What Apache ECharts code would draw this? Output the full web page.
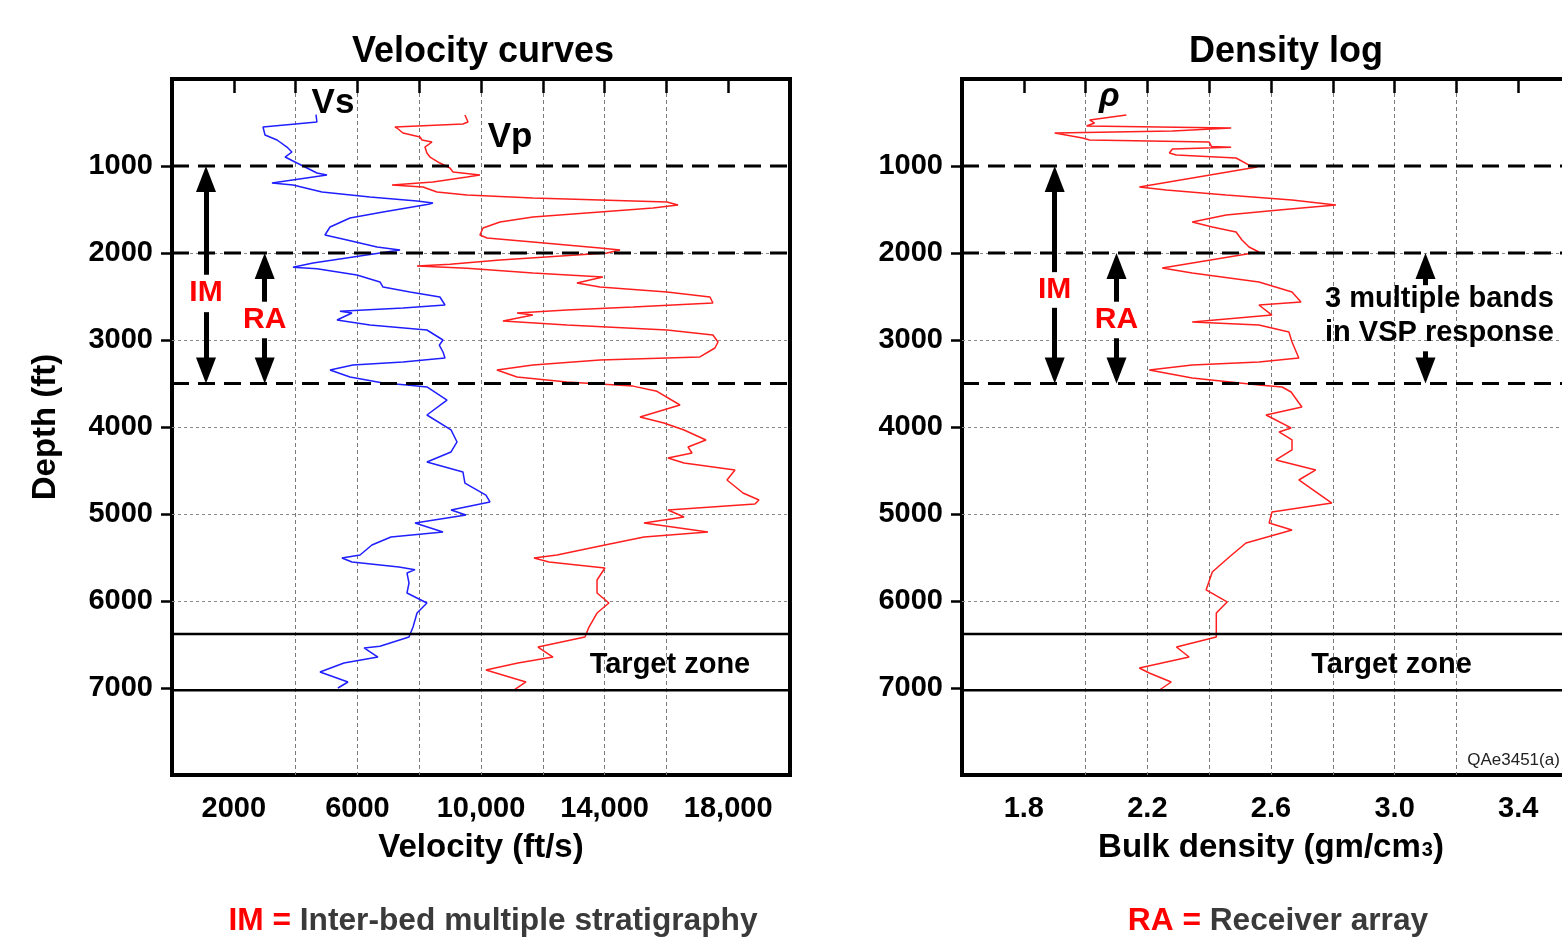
<!DOCTYPE html>
<html><head><meta charset="utf-8">
<script src="https://cdn.jsdelivr.net/npm/echarts@6/dist/echarts.min.js"></script>
<style>html,body{margin:0;padding:0;background:#fff;overflow:hidden}#c{width:1562px;height:939px}</style>
</head><body><div id="c"></div>
<script>
// ---------- data ----------
const depthTickValues = [1000,2000,3000,4000,5000,6000,7000];
const depthTickLabels = ['1000','2000','3000','4000','5000','6000','7000'];
const velTickMarks = [2000,4000,6000,8000,10000,12000,14000,16000,18000];
const velTickValues = [2000,6000,10000,14000,18000];
const velTickLabels = ['2000','6000','10,000','14,000','18,000'];
const rhoTickMarks = [1.8,2.0,2.2,2.4,2.6,2.8,3.0,3.2,3.4];
const rhoTickValues = [1.8,2.2,2.6,3.0,3.4];
const rhoTickLabels = ['1.8','2.2','2.6','3.0','3.4'];
const multipleBoundaries = [1000,2000,3500];   // ft, dashed
const targetZone = [6380,7025];                // ft, solid

// [depth ft, Vs ft/s]
const vsLog = [[410,4660],[494,4690],[552,2945],[644,3010],[701,3400],[782,3720],[839,3880],[897,3660],[966,4045],[1080,4690],[1103,5015],[1195,3235],[1218,3915],[1299,4855],[1356,6405],[1402,7930],[1425,8445],[1440,8300],[1529,6830],[1598,5760],[1701,5115],[1793,4950],[1851,5665],[1931,6635],[1966,7380],[2115,4565],[2165,3915],[2180,4690],[2253,5985],[2333,6730],[2391,6830],[2448,7700],[2506,8670],[2598,8835],[2632,7475],[2670,5435],[2690,5825],[2770,5340],[2828,6405],[2885,8250],[3000,8770],[3060,8650],[3138,8770],[3207,8835],[3253,7475],[3287,5855],[3345,5115],[3425,5760],[3494,6830],[3517,7605],[3540,8250],[3690,8900],[3862,8250],[4034,9030],[4172,9225],[4287,9030],[4402,8250],[4517,9415],[4644,9480],[4782,10160],[4862,10290],[4954,9030],[5011,9515],[5103,7865],[5207,8770],[5264,7085],[5356,6470],[5471,6085],[5506,5500],[5552,5825],[5609,7345],[5640,7865],[5678,7605],[5793,7670],[5908,7605],[6023,8250],[6138,7930],[6299,7800],[6414,7670],[6520,6730],[6540,6215],[6644,6665],[6713,5565],[6816,4790],[6931,5695],[7000,5370]];

// [depth ft, Vp ft/s]
const vpLog = [[414,9480],[494,9580],[517,9415],[552,7215],[563,7280],[621,7475],[667,8025],[701,8090],[724,8415],[782,8185],[851,8250],[897,8350],[966,8670],[1023,8995],[1069,9095],[1103,9965],[1126,9545],[1184,8445],[1218,7120],[1241,8120],[1299,8575],[1333,9545],[1368,11680],[1391,13850],[1414,16020],[1448,16375],[1483,15565],[1529,13850],[1586,11680],[1644,10615],[1713,10065],[1793,9965],[1828,10195],[1874,11680],[1943,13850],[1966,14500],[2000,14075],[2080,10615],[2130,9000],[2150,7930],[2175,9545],[2230,11680],[2276,13945],[2345,13105],[2391,13850],[2448,16020],[2506,17410],[2575,17505],[2621,14920],[2655,12780],[2690,11165],[2713,11680],[2782,10710],[2828,12780],[2885,16020],[2943,17505],[3023,17670],[3092,17570],[3195,17085],[3230,13850],[3287,11680],[3345,10515],[3425,11165],[3483,12780],[3530,14920],[3590,15695],[3747,16440],[3885,15145],[3954,15920],[4034,16570],[4149,17280],[4230,16700],[4299,16830],[4356,16050],[4414,16570],[4494,18220],[4609,17960],[4759,18480],[4839,18995],[4885,18865],[4954,16050],[5034,16570],[5103,15275],[5207,17345],[5264,15275],[5356,14010],[5471,12460],[5506,11715],[5552,12200],[5621,14010],[5759,13755],[5908,13755],[6023,14140],[6138,13755],[6299,13495],[6414,13365],[6529,11845],[6644,12330],[6713,11195],[6793,10160],[6931,11455],[7023,11065]];

// [depth ft, bulk density g/cm3]
const rhoLog = [[414,2.132],[471,2.013],[506,2.029],[540,2.003],[563,2.471],[598,2.281],[621,1.900],[678,1.990],[701,2.013],[724,2.400],[775,2.407],[785,2.471],[805,2.281],[851,2.271],[874,2.294],[908,2.487],[989,2.529],[1011,2.555],[1241,2.174],[1276,2.261],[1333,2.455],[1391,2.668],[1448,2.810],[1506,2.626],[1563,2.455],[1644,2.345],[1701,2.410],[1759,2.487],[1851,2.506],[1931,2.529],[1989,2.561],[2172,2.248],[2230,2.345],[2333,2.561],[2448,2.668],[2563,2.697],[2598,2.561],[2713,2.603],[2793,2.345],[2828,2.561],[2908,2.658],[3023,2.668],[3207,2.690],[3253,2.561],[3287,2.345],[3345,2.206],[3437,2.345],[3517,2.561],[3540,2.636],[3598,2.665],[3770,2.700],[3862,2.584],[4011,2.665],[4057,2.626],[4149,2.668],[4264,2.668],[4379,2.616],[4494,2.745],[4609,2.690],[4874,2.797],[4977,2.603],[5103,2.594],[5184,2.668],[5333,2.519],[5494,2.465],[5667,2.410],[5873,2.390],[6011,2.458],[6138,2.423],[6414,2.423],[6529,2.294],[6644,2.335],[6770,2.174],[6828,2.206],[6931,2.277],[7023,2.239]];

// ---------- chart ----------
const FF = '"Liberation Sans", Arial, sans-serif';
const chart = echarts.init(document.getElementById('c'), null, {renderer:'canvas'});

function lookup(vals, labels){
  return v => { for (let i=0;i<vals.length;i++){ if (Math.abs(vals[i]-v) < 1e-6) return labels[i]; } return ''; };
}
function xAx(grid, min, max, interval, marks, vals, labels, name){
  return {
    gridIndex: grid, type:'value', min, max, interval,
    axisLine:{show:false},
    axisTick:{show:true, length:14, customValues:marks, lineStyle:{color:'#000', width:2.5}},
    axisLabel:{customValues:vals, formatter:lookup(vals, labels), fontSize:29, fontWeight:'bold', color:'#000', margin:19, fontFamily:FF},
    splitLine:{show:true, showMinLine:false, showMaxLine:false, lineStyle:{color:'#7a7a7a', type:[4,3], width:1}},
    name, nameLocation:'middle', nameGap:56,
    nameTextStyle:{fontSize:33, fontWeight:'bold', color:'#000', fontFamily:FF, rich:{s:{fontSize:20, fontWeight:'bold', color:'#000', fontFamily:FF, padding:[6,0,0,1]}}}
  };
}
function yAx(grid, withName){
  return {
    gridIndex: grid, type:'value', min:0, max:8000, interval:1000, inverse:true,
    axisLine:{show:false},
    axisTick:{show:true, length:11, customValues:depthTickValues, lineStyle:{color:'#000', width:2.5}},
    axisLabel:{customValues:depthTickValues, formatter:lookup(depthTickValues, depthTickLabels), fontSize:29, fontWeight:'bold', color:'#000', margin:19, fontFamily:FF},
    splitLine:{show:true, showMinLine:false, showMaxLine:false, lineStyle:{color:'#8a8a8a', type:[3,3], width:1}},
    name: withName ? 'Depth (ft)' : '', nameLocation:'middle', nameGap:110, nameRotate:90,
    nameTextStyle:{fontSize:33, fontWeight:'bold', color:'#000', fontFamily:FF}
  };
}
function note(coord, text, style){
  return {coord, symbolSize:0, label:Object.assign({show:true, position:'inside', formatter:text, fontFamily:FF, fontWeight:'bold', color:'#000', fontSize:29}, style||{})};
}
function arrow(x, from, to){ return [{coord:[x, from]}, {coord:[x, to]}]; }

function hLines(xi, xmin, xmax, depths, style, extra){
  return depths.map((d, i) => Object.assign({
    type:'line', xAxisIndex:xi, yAxisIndex:xi, data:[[xmin, d],[xmax, d]],
    symbol:'none', silent:true, animation:false, z:5,
    lineStyle:style
  }, i === 0 ? (extra || {}) : {}));
}
const dashStyle = {color:'#000', width:3, type:[17,9]};
const solidStyle = {color:'#000', width:2.5, type:'solid'};
const arrowLine = {symbol:['none','triangle'], symbolSize:[20,26], silent:true, animation:false,
  label:{show:false}, lineStyle:{color:'#000', width:5, type:'solid'}, emphasis:{disabled:true}};
const red = {color:'#ff0000', fontSize:30};

const leftExtra = {
  markLine: Object.assign({}, arrowLine, {data:[
    arrow(1100, 2250, 1150), arrow(1100, 2680, 3350),
    arrow(3000, 2560, 2150), arrow(3000, 2980, 3350)
  ]}),
  markPoint: {symbol:'circle', silent:true, animation:false, data:[
    note([1100, 2460], 'IM', red),
    note([3000, 2770], 'RA', red),
    note([5210, 276], 'Vs', {fontSize:35}),
    note([10940, 667], 'Vp', {fontSize:35}),
    note([16115, 6735], 'Target zone', {fontSize:29})
  ]}
};
const rightExtra = {
  markLine: Object.assign({}, arrowLine, {data:[
    arrow(1.9, 2220, 1150), arrow(1.9, 2630, 3350),
    arrow(2.1, 2560, 2150), arrow(2.1, 2980, 3350),
    arrow(3.1, 2370, 2150), arrow(3.1, 3130, 3350)
  ]}),
  markPoint: {symbol:'circle', silent:true, animation:false, data:[
    note([1.9, 2425], 'IM', red),
    note([2.1, 2770], 'RA', red),
    note([2.077, 207], 'ρ', {fontSize:34, fontStyle:'italic'}),
    note([3.145, 2724], '3 multiple bands\nin VSP response', {fontSize:29, lineHeight:34, align:'center'}),
    note([2.99, 6735], 'Target zone', {fontSize:29}),
    {coord:[3.235, 7827], symbolSize:0, label:{show:true, position:'right', distance:0, formatter:'QAe3451(a)', fontFamily:FF, fontSize:17, color:'#222'}}
  ]}
};

const footRich = {r:{color:'#ff0000', fontSize:31.7, fontWeight:'bold', fontFamily:FF}, g:{color:'#3a3a3a', fontSize:31.7, fontWeight:'bold', fontFamily:FF}};
const option = {
  backgroundColor:'#ffffff',
  animation:false,
  title:[
    {text:'Velocity curves', left:478, top:29, textAlign:'center', textStyle:{fontSize:36, fontWeight:'bold', color:'#000', fontFamily:FF}},
    {text:'Density log', left:1281, top:29, textAlign:'center', textStyle:{fontSize:36, fontWeight:'bold', color:'#000', fontFamily:FF}},
    {text:'{r|IM =} {g|Inter-bed multiple stratigraphy}', left:488, top:900, textAlign:'center',
      textStyle:{fontSize:31.7, fontWeight:'bold', fontFamily:FF, color:'#3a3a3a', rich:footRich}},
    {text:'{r|RA =} {g|Receiver array}', left:1273, top:900, textAlign:'center',
      textStyle:{fontSize:31.7, fontWeight:'bold', fontFamily:FF, color:'#3a3a3a', rich:footRich}}
  ],
  grid:[
    {left:172, top:79, width:618, height:696, show:true, borderColor:'#000', borderWidth:4, backgroundColor:'transparent', containLabel:false, outerBoundsMode:'none'},
    {left:962, top:79, width:618, height:696, show:true, borderColor:'#000', borderWidth:4, backgroundColor:'transparent', containLabel:false, outerBoundsMode:'none'}
  ],
  xAxis:[
    xAx(0, 0, 20000, 2000, velTickMarks, velTickValues, velTickLabels, 'Velocity (ft/s)'),
    xAx(1, 1.6, 3.6, 0.2, rhoTickMarks, rhoTickValues, rhoTickLabels, 'Bulk density (gm/cm{s|3})')
  ],
  yAxis:[ yAx(0, true), yAx(1, false) ],
  series:[
    {type:'line', name:'Vs', xAxisIndex:0, yAxisIndex:0, data:vsLog.map(p => [p[1], p[0]]), symbol:'none', lineStyle:{color:'#1f1fff', width:1.5}, silent:true, z:3},
    {type:'line', name:'Vp', xAxisIndex:0, yAxisIndex:0, data:vpLog.map(p => [p[1], p[0]]), symbol:'none', lineStyle:{color:'#ff1f1f', width:1.5}, silent:true, z:3},
    {type:'line', name:'Density', xAxisIndex:1, yAxisIndex:1, data:rhoLog.map(p => [p[1], p[0]]), symbol:'none', lineStyle:{color:'#ff1f1f', width:1.5}, silent:true, z:3},
    ...hLines(0, 0, 20000, multipleBoundaries, dashStyle, leftExtra),
    ...hLines(0, 0, 20000, targetZone, solidStyle),
    ...hLines(1, 1.6, 3.6, multipleBoundaries, dashStyle, rightExtra),
    ...hLines(1, 1.6, 3.6, targetZone, solidStyle)
  ]
};
chart.setOption(option);
</script>
</body></html>
